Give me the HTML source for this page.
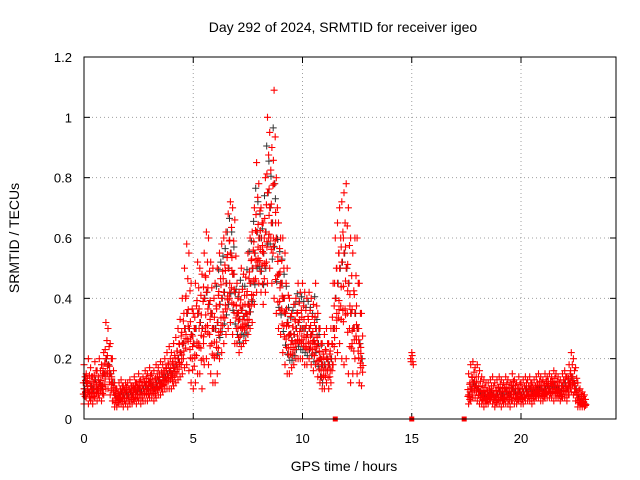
<!DOCTYPE html>
<html><head><meta charset="utf-8"><style>
body{margin:0;background:#fff}
svg{display:block;font-family:"Liberation Sans",sans-serif}
</style></head><body>
<svg id="chart" width="640" height="480" viewBox="0 0 640 480" xmlns="http://www.w3.org/2000/svg">
<rect width="640" height="480" fill="#fff"/>
<text x="343" y="32" font-size="14" text-anchor="middle">Day 292 of 2024, SRMTID for receiver igeo</text>
<text transform="translate(19,238) rotate(-90)" font-size="14" text-anchor="middle">SRMTID / TECUs</text>
<text x="344" y="471" font-size="14" text-anchor="middle">GPS time / hours</text>
<g id="grid"></g><g id="ticks"></g><g id="marks"></g>
<rect x="84" y="57" width="532" height="362" fill="none" stroke="#000" stroke-width="1"/>
</svg>
<script>
const xTicks=[0,5,10,15,20];
const yTicks=[0,0.2,0.4,0.6,0.8,1,1.2];
const yTickLabels=["0","0.2","0.4","0.6","0.8","1","1.2"];
const segments=[[0,12.7],[17.6,22.9]];
const hiVals=[0.18,0.15,0.2,0.17,0.14,0.19,0.16,0.2,0.18,0.22,
0.32,0.3,0.25,0.2,0.12,0.1,0.12,0.13,0.11,0.12,
0.12,0.13,0.11,0.14,0.12,0.15,0.13,0.14,0.16,0.15,
0.17,0.15,0.16,0.18,0.17,0.19,0.18,0.2,0.22,0.24,
0.22,0.25,0.27,0.3,0.33,0.4,0.5,0.58,0.55,0.45,
0.35,0.45,0.52,0.5,0.48,0.55,0.62,0.6,0.52,0.5,
0.45,0.5,0.55,0.58,0.6,0.62,0.68,0.72,0.7,0.66,
0.45,0.42,0.5,0.48,0.47,0.55,0.6,0.62,0.7,0.85,
0.78,0.7,0.65,0.8,1.0,0.95,0.9,1.09,0.8,0.65,
0.6,0.6,0.55,0.5,0.4,0.35,0.38,0.4,0.45,0.42,
0.45,0.42,0.4,0.42,0.4,0.38,0.45,0.35,0.3,0.25,
0.28,0.3,0.25,0.3,0.45,0.6,0.65,0.7,0.72,0.75,
0.78,0.7,0.6,0.55,0.6,0.6,0.45,0.35,
0.15,0.18,0.19,0.17,0.18,0.16,0.14,
0.13,0.12,0.12,0.13,0.14,0.12,0.13,0.14,0.13,0.12,
0.14,0.13,0.12,0.15,0.13,0.12,0.14,0.12,0.13,0.14,
0.13,0.14,0.12,0.13,0.14,0.15,0.14,0.13,0.15,0.14,
0.15,0.14,0.16,0.15,0.14,0.13,0.15,0.16,0.14,0.18,
0.22,0.2,0.17,0.12,0.1,0.09,0.08];
const midVals=[0.1,0.12,0.09,0.11,0.1,0.13,0.1,0.12,0.11,0.15,
0.2,0.18,0.15,0.12,0.08,0.07,0.08,0.09,0.08,0.09,
0.08,0.09,0.08,0.1,0.09,0.1,0.09,0.1,0.11,0.1,
0.12,0.11,0.1,0.12,0.13,0.12,0.14,0.14,0.15,0.16,
0.15,0.17,0.18,0.2,0.22,0.25,0.3,0.35,0.3,0.28,
0.25,0.3,0.35,0.32,0.3,0.4,0.42,0.38,0.35,0.3,
0.3,0.32,0.38,0.4,0.42,0.45,0.5,0.55,0.48,0.42,
0.35,0.33,0.36,0.34,0.35,0.38,0.45,0.5,0.55,0.62,
0.6,0.6,0.55,0.62,0.75,0.7,0.65,0.78,0.6,0.48,
0.45,0.4,0.35,0.32,0.28,0.26,0.28,0.3,0.32,0.3,
0.3,0.3,0.28,0.3,0.28,0.26,0.3,0.25,0.2,0.18,
0.18,0.2,0.18,0.2,0.3,0.4,0.45,0.5,0.52,0.55,
0.5,0.45,0.35,0.3,0.35,0.3,0.25,0.2,
0.08,0.1,0.12,0.11,0.1,0.09,0.08,
0.08,0.07,0.08,0.09,0.08,0.07,0.08,0.09,0.08,0.08,
0.09,0.08,0.08,0.1,0.09,0.08,0.09,0.08,0.09,0.1,
0.09,0.1,0.09,0.09,0.1,0.1,0.1,0.09,0.1,0.11,
0.1,0.11,0.11,0.1,0.1,0.09,0.11,0.12,0.1,0.12,
0.14,0.12,0.1,0.07,0.06,0.06,0.05];
const loVals=[0.05,0.07,0.05,0.06,0.05,0.07,0.06,0.07,0.06,0.08,
0.1,0.1,0.08,0.06,0.04,0.04,0.05,0.05,0.04,0.05,
0.04,0.05,0.05,0.06,0.05,0.06,0.05,0.06,0.06,0.06,
0.07,0.07,0.06,0.07,0.08,0.08,0.09,0.1,0.1,0.1,
0.1,0.11,0.12,0.13,0.14,0.15,0.17,0.18,0.16,0.12,
0.1,0.12,0.15,0.15,0.1,0.18,0.2,0.18,0.15,0.12,
0.12,0.15,0.2,0.22,0.25,0.28,0.3,0.32,0.28,0.25,
0.25,0.22,0.24,0.25,0.26,0.28,0.3,0.32,0.38,0.42,
0.45,0.42,0.38,0.42,0.45,0.5,0.45,0.4,0.35,0.3,
0.28,0.22,0.18,0.15,0.15,0.17,0.18,0.2,0.2,0.2,
0.2,0.18,0.18,0.2,0.18,0.16,0.18,0.14,0.12,0.1,
0.1,0.12,0.1,0.12,0.18,0.2,0.22,0.25,0.2,0.18,
0.2,0.15,0.12,0.15,0.2,0.15,0.12,0.11,
0.05,0.06,0.07,0.07,0.06,0.05,0.05,
0.04,0.05,0.05,0.06,0.05,0.04,0.05,0.05,0.04,0.05,
0.05,0.05,0.04,0.06,0.05,0.05,0.06,0.05,0.05,0.06,
0.06,0.06,0.05,0.06,0.07,0.07,0.06,0.06,0.07,0.07,
0.07,0.07,0.06,0.07,0.07,0.06,0.07,0.07,0.06,0.08,
0.09,0.08,0.06,0.04,0.04,0.04,0.04];
const isoTimes=[14.95,15.0,15.05];
const isoVals=[0.2,0.22,0.19];
const zeroMarkTimes=[11.5,15.0,17.4];

const NS="http://www.w3.org/2000/svg";
const X0=84,X1=616,Y0=419,Y1=57,XMAX=(616-84)/21.85,YMAX=1.2;
function xs(t){return X0+t/XMAX*(X1-X0);}
function ys(v){return Y0-v/YMAX*(Y0-Y1);}
function mk(tag,attrs,parent){const e=document.createElementNS(NS,tag);for(const k in attrs)e.setAttribute(k,attrs[k]);parent.appendChild(e);return e;}
const grid=document.getElementById('grid'),ticks=document.getElementById('ticks'),marks=document.getElementById('marks');
xTicks.forEach(t=>{
  const x=xs(t);
  if(t>0){const g=mk('line',{x1:x,y1:Y1,x2:x,y2:Y0,stroke:'#a0a0a0','stroke-dasharray':'1,3'},grid);
  
  }
  mk('line',{x1:x,y1:Y0,x2:x,y2:Y0-6,stroke:'#000'},ticks);
  mk('line',{x1:x,y1:Y1,x2:x,y2:Y1+6,stroke:'#000'},ticks);
  const l=mk('text',{x:x,y:443,'font-size':13,'text-anchor':'middle'},ticks);l.textContent=t;
  
  
});
yTicks.forEach((v,i)=>{
  const y=ys(v);
  if(v>0&&v<YMAX){const g=mk('line',{x1:X0,y1:y,x2:X1,y2:y,stroke:'#a0a0a0','stroke-dasharray':'1,3'},grid);
  
  }
  mk('line',{x1:X0,y1:y,x2:X0+6,y2:y,stroke:'#000'},ticks);
  mk('line',{x1:X1,y1:y,x2:X1-6,y2:y,stroke:'#000'},ticks);
  const l=mk('text',{x:72,y:y+5,'font-size':13,'text-anchor':'end'},ticks);l.textContent=yTickLabels[i];
  
  
});
const times=[];
segments.forEach(s=>{const n=Math.round((s[1]-s[0])*10);for(let i=0;i<=n;i++)times.push(s[0]+i/10);});
let dRed='',dBlack='';
function plus(t,v){const x=xs(t),y=ys(v);return `M${(x-3.5).toFixed(1)} ${y.toFixed(1)}h7M${x.toFixed(1)} ${(y-3.5).toFixed(1)}v7`;}
times.forEach((t,i)=>{
  const h=hiVals[i],m=midVals[i],l=loVals[i];
  dRed+=plus(t,h)+plus(t,m)+plus(t,l);
  dRed+=plus(t+0.05,(h+m)/2)+plus(t+0.05,(l+m)/2);
  dRed+=plus(t-0.03,(3*m+h)/4)+plus(t+0.07,(3*m+l)/4)+plus(t-0.03,(h+3*l)/4);
  dBlack+=plus(t+0.03,m);
  if(t>6&&t<11)dBlack+=plus(t-0.04,(h+m)/2+0.03)+plus(t+0.02,(l+m)/2-0.02);
});
isoTimes.forEach((t,i)=>{dRed+=plus(t,isoVals[i])+plus(t+0.02,isoVals[i]-0.01);});
const pb=mk('path',{d:dBlack,stroke:'#333','stroke-width':1,fill:'none'},marks);


const pr=mk('path',{d:dRed,stroke:'#ff0000','stroke-width':1.1,fill:'none'},marks);


zeroMarkTimes.forEach(t=>{
  const r=mk('rect',{x:xs(t)-2.5,y:Y0-2.5,width:5,height:5,fill:'#ff0000'},marks);
  
  
});
</script>
</body></html>
